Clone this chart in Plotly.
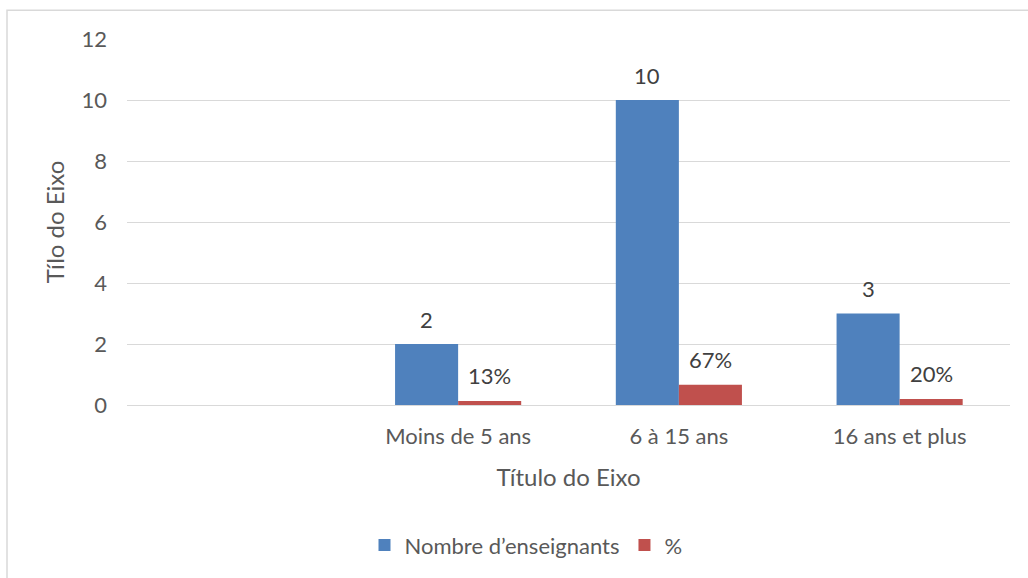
import plotly.graph_objects as go

categories = ["", "Moins de 5 ans", "6 à 15 ans", "16 ans et plus"]
enseignants = [None, 2, 10, 3]
pourcent = [None, 0.1333, 0.6667, 0.20]
pourcent_labels = ["", "13%", "67%", "20%"]
enseignants_labels = ["", "2", "10", "3"]
y_ticks = [0, 2, 4, 6, 8, 10, 12]

FONT = "Lato"
GRAY = "#595959"
DARK = "#404040"
BLUE = "#4F81BD"
RED = "#C0504D"

L, R, T, B = 127, 18, 39, 171
W, H = 1028, 578
PW, PH = W - L - R, H - T - B

fig = go.Figure()
fig.add_trace(go.Bar(x=categories, y=enseignants, name="Nombre d’enseignants",
                     marker=dict(color=BLUE, line=dict(width=0))))
fig.add_trace(go.Bar(x=categories, y=pourcent, name="%",
                     marker=dict(color=RED, line=dict(width=0))))

annotations = []
for vals, labels, shift in ((enseignants, enseignants_labels, -31.5),
                            (pourcent, pourcent_labels, 31.5)):
    for c, v, t in zip(categories, vals, labels):
        if v is None:
            continue
        annotations.append(dict(x=c, y=v, xref="x", yref="y", text=t, showarrow=False,
                                xshift=shift, yanchor="middle", yshift=25,
                                font=dict(family=FONT, size=22, color=DARK)))

fig.update_layout(
    width=W, height=H,
    margin=dict(l=L, r=R, t=T, b=B, pad=0),
    paper_bgcolor="white", plot_bgcolor="white",
    barmode="group", bargap=0.4286, bargroupgap=0,
    font=dict(family=FONT, size=22, color=GRAY),
    showlegend=True,
    legend=dict(orientation="h", x=(526 - L) / PW, xanchor="center",
                y=(407 - 548) / PH, yanchor="middle",
                font=dict(family=FONT, size=22, color=GRAY), traceorder="normal"),
    annotations=annotations,
    shapes=[dict(type="rect", xref="paper", yref="paper",
                 x0=(7 - L) / PW, x1=(1040 - L) / PW,
                 y0=-0.6, y1=(407 - 10) / PH,
                 line=dict(color="#d9d9d9", width=1.5), fillcolor="rgba(0,0,0,0)",
                 layer="below")],
)
fig.update_xaxes(type="category", showgrid=False, showline=False, zeroline=False,
                 ticks="", ticklabelstandoff=16,
                 tickfont=dict(family=FONT, size=22, color=GRAY),
                 title=dict(text="Título do Eixo", font=dict(family=FONT, size=24, color=GRAY),
                            standoff=21))
fig.update_yaxes(range=[0, 12], tickvals=y_ticks, showgrid=True, gridcolor="#d9d9d9",
                 gridwidth=1, zeroline=True, zerolinecolor="#d9d9d9", zerolinewidth=1,
                 showline=False, ticks="", ticklabelstandoff=19,
                 tickfont=dict(family=FONT, size=22, color=GRAY),
                 title=dict(text="Tílo do Eixo", font=dict(family=FONT, size=24, color=GRAY),
                            standoff=10))

fig.write_html("out.html", config={"displayModeBar": False},
               post_script="document.body.style.margin='0';document.body.style.padding='0';")
